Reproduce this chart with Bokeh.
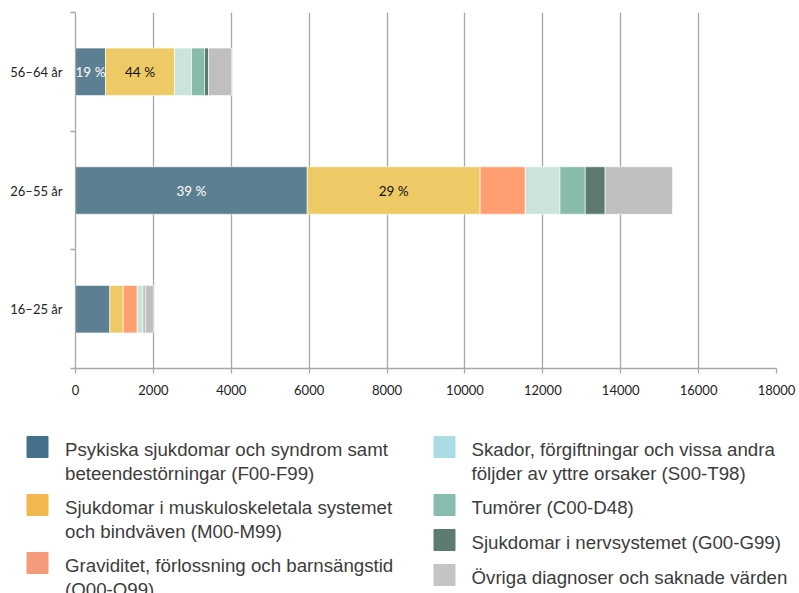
from bokeh.plotting import figure
from bokeh.models import ColumnDataSource, Range1d, FixedTicker
from bokeh.embed import file_html
from bokeh.resources import INLINE
from bokeh.core.properties import value

# ---------------- data ----------------
ages = ["16–25 år", "26–55 år", "56–64 år"]
series_keys = ["psykiska", "muskulo", "graviditet", "skador", "tumorer", "nerv", "ovriga"]
psykiska = [880, 5950, 770]
muskulo = [345, 4440, 1772]
graviditet = [360, 1160, 0]
skador = [145, 890, 437]
tumorer = [35, 650, 334]
nerv = [35, 510, 103]
ovriga = [200, 1730, 590]
x_ticks = [0, 2000, 4000, 6000, 8000, 10000, 12000, 14000, 16000, 18000]

legend_labels = [
    "Psykiska sjukdomar och syndrom samt\nbeteendestörningar (F00-F99)",
    "Sjukdomar i muskuloskeletala systemet\noch bindväven (M00-M99)",
    "Graviditet, förlossning och barnsängstid\n(O00-O99)",
    "Skador, förgiftningar och vissa andra\nföljder av yttre orsaker (S00-T98)",
    "Tumörer (C00-D48)",
    "Sjukdomar i nervsystemet (G00-G99)",
    "Övriga diagnoser och saknade värden",
]
# which (age, series) segments carry a percentage label
labelled = [("56–64 år", 0), ("56–64 år", 1), ("26–55 år", 0), ("26–55 år", 1)]

# ---------------- styles ----------------
bar_colors = ["#5C7F92", "#EECA66", "#FF9F71", "#CCE3DC", "#89BBAD", "#5E7A6E", "#BFBFBF"]
legend_colors = ["#44708C", "#F2B84D", "#F59A7A", "#A9DDE3", "#88BCAE", "#5E7B70", "#C4C4C4"]
label_colors = ["white", "#111111"]
AX_FONT = "Lato"
GRID = "#a8a8a8"

values = [psykiska, muskulo, graviditet, skador, tumorer, nerv, ovriga]
ypos = [i + 0.5 for i in range(len(ages))]

data = {"y": ypos}
for k, v in zip(series_keys, values):
    data[k] = v
src = ColumnDataSource(data)

W = 799
CH = 413
p = figure(width=W, height=CH, x_range=Range1d(0, 18000), y_range=Range1d(0, len(ages)),
           output_backend="svg", toolbar_location=None,
           min_border_left=75, min_border_right=W - 776, min_border_top=12,
           min_border_bottom=CH - 368)
p.outline_line_color = None
p.ygrid.grid_line_color = None
p.xgrid.grid_line_color = GRID
p.xgrid.grid_line_width = 1.3
p.xgrid.ticker = FixedTicker(ticks=x_ticks)

p.hbar_stack(series_keys, y="y", height=0.4, color=bar_colors, source=src,
             line_color="white", line_width=0.6)

# percentage labels
lx, ly, lt, lc = [], [], [], []
for age, s in labelled:
    i = ages.index(age)
    row = [v[i] for v in values]
    left = sum(row[:s])
    lx.append(left + row[s] / 2)
    ly.append(ypos[i])
    lt.append(f"{round(100 * row[s] / sum(row))} %")
    lc.append(label_colors[s])
p.text(x="x", y="y", text="t", text_color="c",
       source=ColumnDataSource(dict(x=lx, y=ly, t=lt, c=lc)),
       text_align="center", text_baseline="middle",
       text_font=value(AX_FONT), text_font_size="13.5px")

# x axis
xa = p.xaxis[0]
xa.ticker = FixedTicker(ticks=x_ticks)
xa.axis_line_color = GRID
xa.axis_line_width = 1.3
xa.major_tick_line_color = GRID
xa.major_tick_line_width = 1.3
xa.major_tick_in = 0
xa.major_tick_out = 5
xa.minor_tick_line_color = None
xa.major_label_text_font = AX_FONT
xa.major_label_text_font_size = "13px"
xa.major_label_text_color = "#222222"
xa.major_label_standoff = 11

# y axis
ya = p.yaxis[0]
ya.ticker = FixedTicker(ticks=ypos, minor_ticks=[float(i) for i in range(len(ages) + 1)])
ya.major_label_overrides = {y: a for y, a in zip(ypos, ages)}
ya.axis_line_color = GRID
ya.axis_line_width = 1.3
ya.major_tick_line_color = None
ya.major_tick_in = 0
ya.major_tick_out = 0
ya.minor_tick_line_color = GRID
ya.minor_tick_line_width = 1.3
ya.minor_tick_in = 0
ya.minor_tick_out = 5
ya.major_label_text_font = AX_FONT
ya.major_label_text_font_size = "13px"
ya.major_label_text_color = "#222222"
ya.major_label_standoff = 8

# ---------------- legend (separate figure, pixel coordinates) ----------------
LH = 593 - CH
leg = figure(width=W, height=LH, x_range=Range1d(0, W), y_range=Range1d(LH, 0),
             output_backend="svg", toolbar_location=None, min_border=0,
             x_axis_location=None, y_axis_location=None)
leg.grid.visible = False
leg.outline_line_color = None

cols = [(0, 3, 26.5, 64.5), (3, 7, 433.5, 471)]
SQ = 21
sx, sy, sc, tx, ty, tt = [], [], [], [], [], []
for start, end, xsq, xtxt in cols:
    top = 23
    for j in range(start, end):
        n = legend_labels[j].count("\n") + 1
        sx.append(xsq + SQ / 2)
        sy.append(top + SQ / 2)
        sc.append(legend_colors[j])
        tx.append(xtxt)
        ty.append(top + 2)
        tt.append(legend_labels[j])
        top += 12 + 23 * n

leg.rect(x="x", y="y", width=SQ, height=SQ, color="c",
         source=ColumnDataSource(dict(x=sx, y=sy, c=sc)))
leg.text(x="x", y="y", text="t", source=ColumnDataSource(dict(x=tx, y=ty, t=tt)),
         text_align="left", text_baseline="top", text_color="#3c3c3c",
         text_font=value("Liberation Sans"), text_font_size="18.7px",
         text_line_height=1.17)

open("out.html", "w").write(file_html([p, leg], INLINE))
